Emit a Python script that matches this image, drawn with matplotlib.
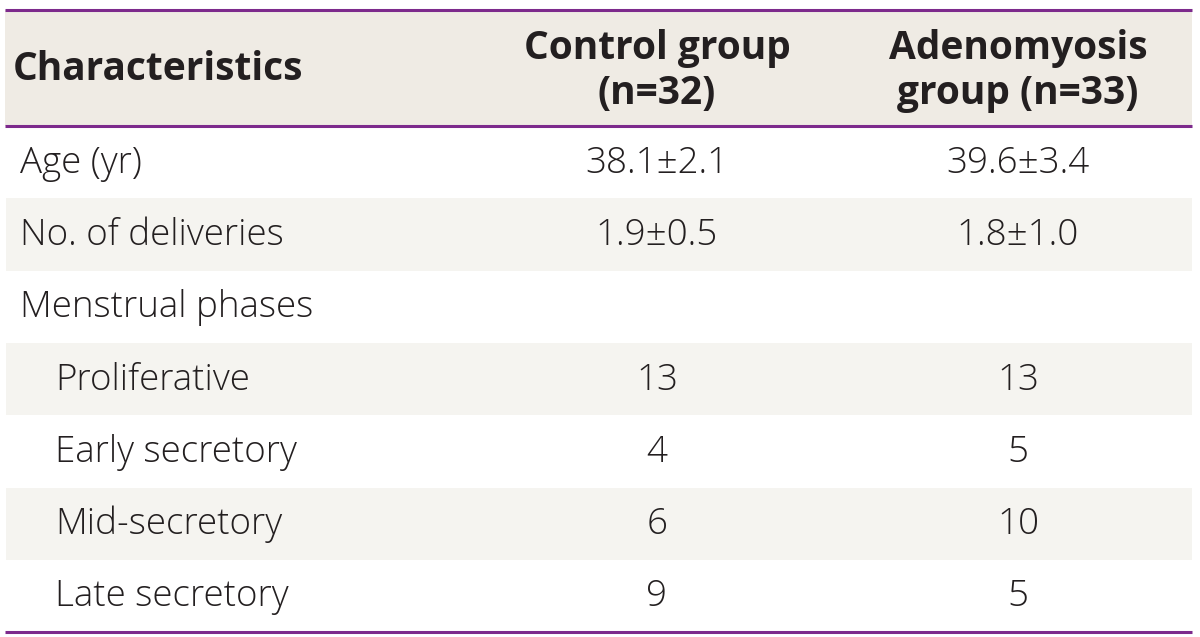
import matplotlib.pyplot as plt

# table content
header = ["Characteristics", "Control group\n(n=32)", "Adenomyosis\ngroup (n=33)"]
row_labels = ["Age (yr)", "No. of deliveries", "Menstrual phases", "Proliferative",
              "Early secretory", "Mid-secretory", "Late secretory"]
indent = [False, False, False, True, True, True, True]
control = ["38.1±2.1", "1.9±0.5", "", "13", "4", "6", "9"]
adeno = ["39.6±3.4", "1.8±1.0", "", "13", "5", "10", "5"]

purple = "#7d2a8c"
head_bg = "#efebe4"
stripe = "#f5f4f0"
ink = "#231f20"

plt.rcParams['font.family'] = ['Open Sans', 'DejaVu Sans']

fig = plt.figure(figsize=(12, 6.37), dpi=100)
ax = fig.add_axes([0, 0, 1, 1])
ax.set_xlim(0, 1200)
ax.set_ylim(637, 0)
ax.axis('off')

left, right = 5, 1192
top, head_bottom = 10, 126
row_h = 72.3
col_x = [13, 657, 1018]
head_fs = 28
body_fs = 26.5

# header
ax.fill_between([left, right], top, head_bottom, color=head_bg, lw=0)
ax.text(col_x[0], (top + head_bottom) / 2 + 2, header[0], fontsize=head_fs, fontweight='bold',
        color=ink, ha='left', va='center')
for x, h in zip(col_x[1:], header[1:]):
    ax.text(x, (top + head_bottom) / 2 + 3, h, fontsize=head_fs, fontweight='bold', color=ink,
            ha='center', va='center', linespacing=1.2)

# body rows
for i, lab in enumerate(row_labels):
    y0 = head_bottom + i * row_h
    yc = y0 + row_h / 2 + 1
    if i % 2 == 1:
        ax.fill_between([left + 1, right], y0, y0 + row_h, color=stripe, lw=0)
    ax.text(55 if indent[i] else 20, yc, lab, fontsize=body_fs, fontweight='light', color=ink,
            ha='left', va='center')
    ax.text(col_x[1], yc, control[i], fontsize=body_fs, fontweight='light', color=ink,
            ha='center', va='center')
    ax.text(col_x[2], yc, adeno[i], fontsize=body_fs, fontweight='light', color=ink,
            ha='center', va='center')

bottom = head_bottom + len(row_labels) * row_h
for y in [top, head_bottom, bottom]:
    ax.plot([left, right], [y, y], color=purple, lw=2.2, solid_capstyle='butt')

fig.savefig('out.png', dpi=100)
